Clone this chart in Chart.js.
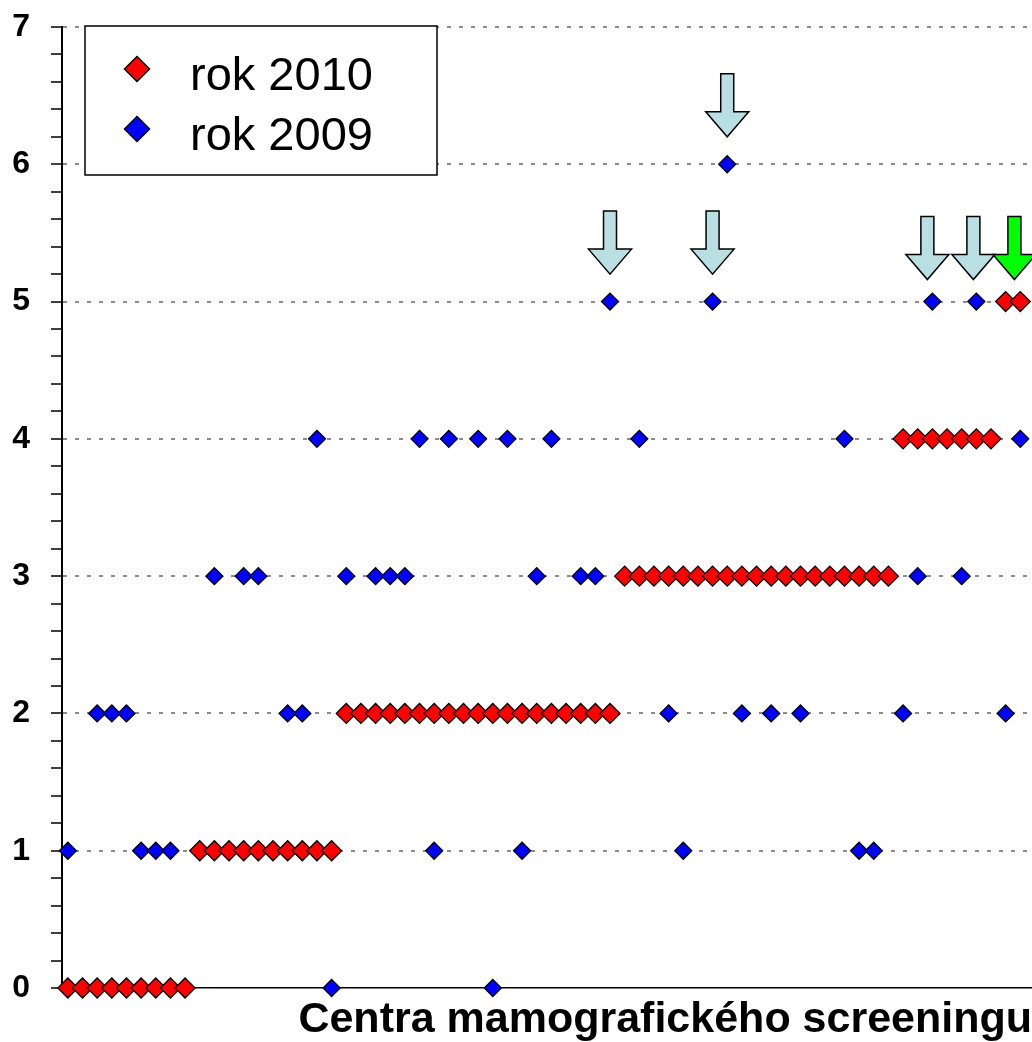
<!DOCTYPE html>
<html>
<head>
<meta charset="utf-8">
<script src="https://cdn.jsdelivr.net/npm/chart.js@4.4.0/dist/chart.umd.min.js"></script>
<style>
  html, body { margin: 0; padding: 0; background: #fff; }
</style>
</head>
<body>
<canvas id="chart" width="1032" height="1042"></canvas>
<script>
// centres are numbered 1..66 along the x axis
const rok2010 = [
  0, 0, 0, 0, 0, 0, 0, 0, 0,
  1, 1, 1, 1, 1, 1, 1, 1, 1, 1,
  2, 2, 2, 2, 2, 2, 2, 2, 2, 2, 2, 2, 2, 2, 2, 2, 2, 2, 2,
  3, 3, 3, 3, 3, 3, 3, 3, 3, 3, 3, 3, 3, 3, 3, 3, 3, 3, 3,
  4, 4, 4, 4, 4, 4, 4,
  5, 5
];
// null = no visible 2009 marker for that centre
const rok2009 = [
  1, null, 2, 2, 2, 1, 1, 1, null, null,
  3, null, 3, 3, null, 2, 2, 4, 0, 3,
  null, 3, 3, 3, 4, 1, 4, null, 4, 0,
  4, 1, 3, 4, null, 3, 3, 5, null, 4,
  null, 2, 1, null, 5, 6, 2, null, 2, null,
  2, null, null, 4, 1, 1, null, 2, 3, 5,
  null, 3, 5, null, 2, 4
];
const yTicks = [0, 1, 2, 3, 4, 5, 6, 7];

// highlighted centres (arrows): position on x, tip value on y
const arrowX = [38, 45, 46, 59.66, 62.8, 65.6];
const arrowTip = [5.2, 5.2, 6.2, 5.16, 5.16, 5.16];
const arrowColor = ['#BADFE3', '#BADFE3', '#BADFE3', '#BADFE3', '#BADFE3', '#00FF00'];

const toPoints = arr => arr.map((v, i) => ({x: i + 1, y: v})).filter(p => p.y !== null);
const isWhole = v => Math.abs(v - Math.round(v)) < 1e-6;

const arrowsPlugin = {
  id: 'arrows',
  afterDatasetsDraw(chart) {
    const {ctx, scales: {x, y}} = chart;
    arrowX.forEach((ax, i) => {
      const cx = x.getPixelForValue(ax);
      const tip = y.getPixelForValue(arrowTip[i]);
      ctx.save();
      ctx.beginPath();
      ctx.moveTo(cx - 6.5, tip - 63);
      ctx.lineTo(cx + 6.5, tip - 63);
      ctx.lineTo(cx + 6.5, tip - 25);
      ctx.lineTo(cx + 21.5, tip - 25);
      ctx.lineTo(cx, tip);
      ctx.lineTo(cx - 21.5, tip - 25);
      ctx.lineTo(cx - 6.5, tip - 25);
      ctx.closePath();
      ctx.fillStyle = arrowColor[i];
      ctx.fill();
      ctx.lineWidth = 1.5;
      ctx.strokeStyle = '#000';
      ctx.stroke();
      ctx.restore();
    });
  }
};

const legendPlugin = {
  id: 'boxLegend',
  afterDraw(chart) {
    const ctx = chart.ctx;
    ctx.save();
    ctx.fillStyle = '#fff';
    ctx.fillRect(85, 26, 352, 149);
    ctx.lineWidth = 1.5;
    ctx.strokeStyle = '#000';
    ctx.strokeRect(85, 26, 352, 149);
    chart.data.datasets.forEach((ds, i) => {
      const cy = 69 + i * 60;
      ctx.beginPath();
      ctx.moveTo(137, cy - 12.5);
      ctx.lineTo(149.5, cy);
      ctx.lineTo(137, cy + 12.5);
      ctx.lineTo(124.5, cy);
      ctx.closePath();
      ctx.fillStyle = ds.backgroundColor;
      ctx.fill();
      ctx.lineWidth = 1.5;
      ctx.stroke();
      ctx.fillStyle = '#000';
      ctx.font = '47px "Liberation Sans", Arial, sans-serif';
      ctx.textBaseline = 'alphabetic';
      ctx.fillText(ds.label, 190, cy + 21);
    });
    ctx.restore();
  }
};

new Chart(document.getElementById('chart').getContext('2d'), {
  type: 'scatter',
  data: {
    datasets: [{
      label: 'rok 2010',
      data: toPoints(rok2010),
      backgroundColor: '#FF0000',
      borderColor: '#000',
      borderWidth: 1.3,
      pointStyle: 'rectRot',
      pointRadius: 10,
      clip: false
    }, {
      label: 'rok 2009',
      data: toPoints(rok2009),
      backgroundColor: '#0000FF',
      borderColor: '#000',
      borderWidth: 1.3,
      pointStyle: 'rectRot',
      pointRadius: 8.5,
      clip: false
    }]
  },
  options: {
    responsive: false,
    animation: false,
    layout: { autoPadding: false, padding: { top: 27, right: 0, left: 0, bottom: 0 } },
    plugins: {
      legend: { display: false },
      tooltip: { enabled: false }
    },
    scales: {
      x: {
        type: 'linear',
        min: 0.6,
        max: 66.8,
        ticks: { display: false },
        grid: { display: false },
        border: { display: true, color: '#000', width: 1.5 },
        title: {
          display: true,
          text: 'Centra mamografického screeningu',
          align: 'end',
          color: '#000',
          font: { family: '"Liberation Sans", Arial, sans-serif', size: 43, weight: 'bold' },
          padding: { top: 0, bottom: -4 }
        },
        afterFit(scale) { scale.height = 54; }
      },
      y: {
        min: yTicks[0],
        max: yTicks[yTicks.length - 1],
        ticks: {
          stepSize: 0.2,
          autoSkip: false,
          padding: 21,
          color: '#000',
          font: { family: '"Liberation Sans", Arial, sans-serif', size: 32, weight: 'bold' },
          callback: v => (isWhole(v) && yTicks.includes(Math.round(v))) ? String(Math.round(v)) : ''
        },
        grid: {
          color: c => (c.tick && isWhole(c.tick.value) && c.tick.value > 0) ? '#8C8C8C' : 'rgba(0,0,0,0)',
          lineWidth: 2,
          tickColor: '#000',
          tickWidth: 1.5,
          tickLength: 11
        },
        border: { display: true, color: '#000', width: 2, dash: [4, 8] },
        afterFit(scale) {
          scale.width = 62;
          scale.paddingTop = 0;
          scale.paddingBottom = 0;
        }
      }
    }
  },
  plugins: [arrowsPlugin, legendPlugin]
});
</script>
</body>
</html>
